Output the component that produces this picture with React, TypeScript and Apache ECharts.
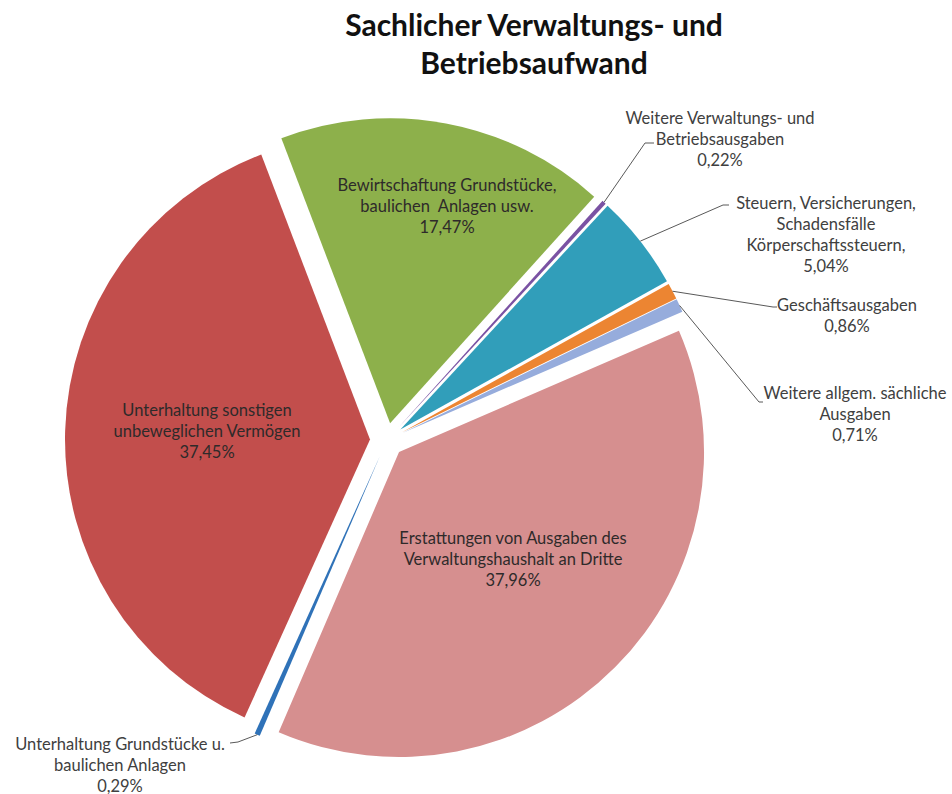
import React, { useEffect, useRef } from 'react';
import * as echarts from 'echarts';

// ---- data ----
const categories = [
  'Weitere Verwaltungs- und\nBetriebsausgaben',
  'Steuern, Versicherungen,\nSchadensfälle\nKörperschaftssteuern,',
  'Geschäftsausgaben',
  'Weitere allgem. sächliche\nAusgaben',
  'Erstattungen von Ausgaben des\nVerwaltungshaushalt an Dritte',
  'Unterhaltung Grundstücke u.\nbaulichen Anlagen',
  'Unterhaltung sonstigen\nunbeweglichen Vermögen',
  'Bewirtschaftung Grundstücke,\nbaulichen  Anlagen usw.',
];
const shares = [0.22, 5.04, 0.86, 0.71, 37.96, 0.29, 37.45, 17.47];
const titleText = 'Sachlicher Verwaltungs- und\nBetriebsaufwand';

// ---- styles / layout ----
const colors = ['#7A52A3', '#319EBA', '#EC8532', '#96ACDC', '#D68F8F', '#2F72B8', '#C24E4C', '#8DB04B'];
const insideLabel = [false, false, false, false, true, false, true, true];
const FONT = 'Lato, "Noto Sans", sans-serif';
const CENTER = [387, 440];
const RADIUS = 305;
const EXPLODE = 17;
const START_CW = 42; // degrees clockwise from 12 o'clock
const labelAnchors: number[][] = [
  [720, 107], [826, 192], [847, 294], [855, 382], [513, 527], [120, 733], [207, 399], [447, 174],
];
const leaderBends: (number[][] | null)[] = [
  [[645, 143], [654, 143]],
  [[723, 205], [729, 205]],
  [[773, 307], [777, 307]],
  [[759, 402], [763, 402]],
  null,
  [[238, 742], [230, 743]],
  null,
  null,
];

const total = shares.reduce((a, b) => a + b, 0);
function edgePoint(i: number): number[] {
  let before = 0;
  for (let j = 0; j < i; j++) before += shares[j];
  const mid = START_CW + ((before + shares[i] / 2) / total) * 360;
  const rad = (mid * Math.PI) / 180;
  const rr = RADIUS + EXPLODE;
  return [CENTER[0] + rr * Math.sin(rad), CENTER[1] - rr * Math.cos(rad)];
}

export default function App() {
  const ref = useRef<HTMLDivElement>(null);
  useEffect(() => {
    document.body.style.margin = '0';
    if (!ref.current) return;
    const chart = echarts.init(ref.current, undefined, { renderer: 'svg' });
    const common = {
      type: 'pie',
      center: CENTER,
      radius: RADIUS,
      startAngle: 90 - START_CW,
      clockwise: true,
      avoidLabelOverlap: false,
      emphasis: { disabled: true },
    };
    chart.setOption({
      animation: false,
      backgroundColor: '#ffffff',
      title: {
        text: titleText,
        left: 529,
        top: 0,
        textAlign: 'center',
        textStyle: { fontFamily: FONT, fontSize: 30, fontWeight: 'bold', lineHeight: 38, color: '#111111' },
      },
      series: [
        {
          ...common,
          selectedMode: 'multiple',
          selectedOffset: EXPLODE,
          itemStyle: { borderWidth: 0 },
          select: { itemStyle: { borderWidth: 0 } },
          label: { show: false },
          labelLine: { show: false },
          data: shares.map((v, i) => ({
            value: v,
            name: categories[i],
            selected: true,
            itemStyle: { color: colors[i] },
            select: { itemStyle: { color: colors[i], borderWidth: 0 } },
          })),
        },
        {
          ...common,
          silent: true,
          z: 3,
          itemStyle: { color: 'rgba(0,0,0,0)', borderWidth: 0 },
          label: {
            formatter: (p: any) => `${p.name}\n${Number(p.value).toFixed(2).replace('.', ',')}%`,
            fontFamily: FONT,
            fontSize: 16.5,
            lineHeight: 21,
            color: '#404040',
            align: 'center',
          },
          labelLine: { lineStyle: { color: '#595959', width: 1 } },
          labelLayout: (params: any) => {
            const i = params.dataIndex;
            const [x, y] = labelAnchors[i];
            const res: any = { x, y, align: 'center', verticalAlign: 'top' };
            const bends = leaderBends[i];
            if (bends) res.labelLinePoints = [edgePoint(i), ...bends];
            return res;
          },
          data: shares.map((v, i) => ({
            value: v,
            name: categories[i],
            label: {
              position: insideLabel[i] ? 'inside' : 'outside',
              color: insideLabel[i] ? '#2e2a2a' : '#404040',
            },
            labelLine: { show: !insideLabel[i] },
          })),
        },
      ],
    });
    return () => chart.dispose();
  }, []);
  return <div ref={ref} style={{ width: 952, height: 794 }} />;
}
